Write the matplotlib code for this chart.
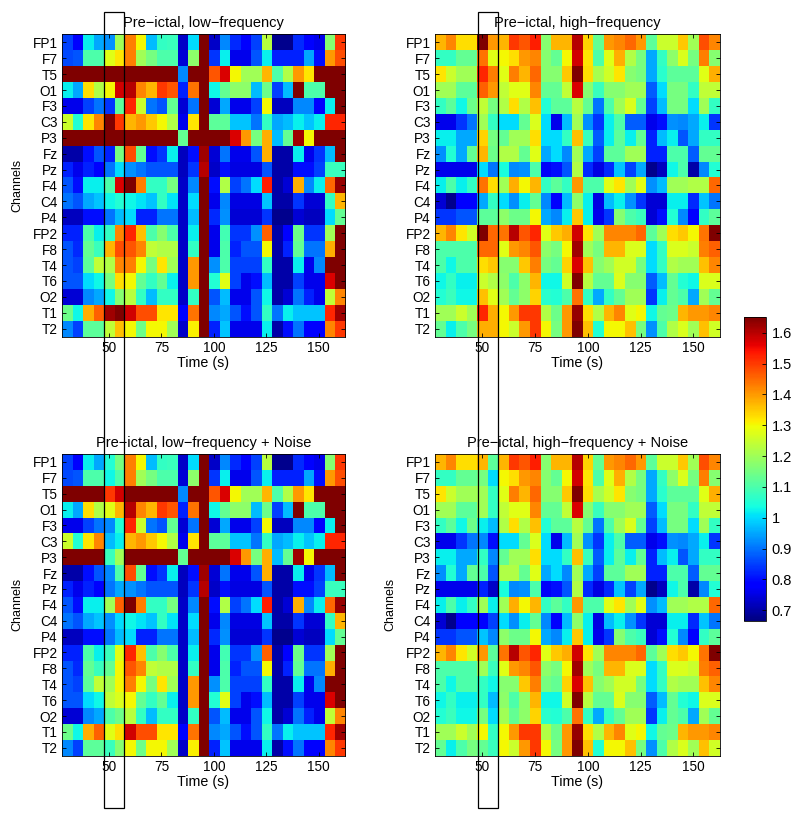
import matplotlib
matplotlib.use("Agg")
import matplotlib.pyplot as plt
import numpy as np
from matplotlib.patches import Rectangle

plt.rcParams["font.family"] = ["Liberation Sans", "DejaVu Sans"]

channels = ["FP1", "F7", "T5", "O1", "F3", "C3", "P3", "Fz", "Pz", "F4", "C4", "P4",
            "FP2", "F8", "T4", "T6", "O2", "T1", "T2"]
time_ticks = [50, 75, 100, 125, 150]
cbar_ticks = [0.7, 0.8, 0.9, 1, 1.1, 1.2, 1.3, 1.4, 1.5, 1.6]

low_freq = [
    [.85, .78, 1.02, .95, .93, 1.2, 1.43, 1.3, .97, 1.07, 1.08, .73, 1.0, 1.65, .73, .92, .83, .78, .85, 1.23, .68, .68, .83, .78, .76, 1.17, 1.5],
    [.86, .87, 1.1, 1.1, 1.28, 1.32, 1.43, 1.2, 1.15, 1.1, 1.1, .74, 1.18, 1.65, .84, 1.02, .76, .76, .87, 1.02, .82, .82, .82, .95, .8, 1.4, 1.48],
    [1.65, 1.65, 1.65, 1.65, 1.65, 1.65, 1.65, 1.65, 1.65, 1.65, 1.65, .92, 1.65, 1.65, 1.47, 1.57, 1.3, 1.2, 1.2, 1.37, 1.1, 1.22, 1.4, 1.32, 1.65, 1.65, 1.65],
    [1.02, .95, 1.33, 1.22, 1.3, 1.58, 1.6, 1.42, 1.37, 1.5, 1.47, .82, 1.44, 1.65, 1.03, 1.13, 1.18, 1.18, .97, 1.14, .85, .97, 1.65, 1.1, 1.1, 1.65, 1.65],
    [.76, .76, .85, .9, .84, 1.12, 1.52, 1.25, .9, .87, 1.13, .74, .9, 1.65, .74, .95, .76, .76, .85, 1.3, .72, .72, .92, .92, .78, 1.02, 1.65],
    [1.25, 1.05, 1.32, 1.42, 1.65, 1.5, 1.37, 1.4, 1.35, 1.3, 1.22, .76, 1.32, 1.65, 1.12, 1.12, .98, .98, .9, 1.07, .95, .97, 1.02, .98, 1.02, 1.52, 1.52],
    [1.65, 1.65, 1.65, 1.65, 1.65, 1.65, 1.65, 1.65, 1.65, 1.65, 1.65, 1.13, 1.65, 1.65, 1.65, 1.65, 1.57, 1.4, 1.15, 1.38, .97, 1.13, 1.62, 1.3, 1.65, 1.65, 1.65],
    [.7, .7, .8, .87, .82, 1.15, 1.48, 1.13, .8, .84, 1.02, .72, .8, 1.62, .74, .9, .76, .76, .87, 1.38, .7, .7, 1.02, .76, .84, .97, 1.65],
    [.82, .76, .82, .78, .9, 1.0, .93, .9, .87, .87, .87, .72, .84, 1.6, .73, .8, .75, .75, .75, .87, .7, .7, .8, .8, .85, 1.08, 1.08],
    [.87, .8, 1.02, 1.02, 1.1, 1.57, 1.65, 1.43, 1.07, 1.07, 1.15, .73, .92, 1.65, .8, 1.22, .85, .9, 1.0, 1.53, .7, .74, 1.38, .92, 1.02, 1.45, 1.63],
    [.9, .87, .95, .98, 1.03, 1.05, 1.03, 1.01, .98, 1.07, 1.01, .73, 1.0, 1.65, .76, .92, .75, .75, .75, .98, .7, .7, .84, .74, .74, 1.07, 1.37],
    [.72, .72, .8, .8, .9, .97, 1.0, .82, .82, .9, .9, .73, .97, 1.65, .83, .93, .74, .74, .74, .84, .68, .68, .74, .72, .72, 1.0, 1.13],
    [.82, .82, 1.1, 1.02, 1.07, 1.42, 1.52, 1.36, 1.1, 1.17, 1.1, .73, 1.02, 1.65, .76, 1.09, .84, .84, .93, 1.46, .7, .78, 1.14, .84, .84, 1.2, 1.65],
    [.87, .83, 1.13, 1.08, 1.37, 1.48, 1.47, 1.42, 1.24, 1.22, 1.22, .73, 1.07, 1.65, .76, 1.1, .82, .87, .87, 1.3, .7, .82, 1.13, .9, .9, 1.38, 1.65],
    [.87, .85, 1.12, 1.24, 1.22, 1.42, 1.43, 1.3, 1.15, 1.32, 1.2, .73, 1.4, 1.65, .93, 1.1, .85, .85, .85, 1.07, .7, .7, 1.02, .76, .92, 1.65, 1.65],
    [.87, .87, 1.0, 1.03, 1.15, 1.33, 1.3, 1.13, 1.07, 1.13, 1.02, .73, 1.4, 1.65, 1.05, 1.28, .85, .76, .8, .97, .7, .7, .85, .76, .76, 1.57, 1.65],
    [.74, .74, .92, .95, 1.03, 1.17, 1.23, 1.07, .97, 1.07, 1.07, .73, 1.07, 1.65, .87, .97, .76, .76, .87, 1.03, .7, .74, .9, .82, .76, 1.24, 1.42],
    [1.14, 1.03, 1.38, 1.46, 1.62, 1.65, 1.58, 1.48, 1.48, 1.32, 1.32, .78, 1.44, 1.65, .92, .95, .87, .8, .87, 1.07, .9, 1.02, .98, .98, .98, 1.52, 1.62],
    [.92, .85, 1.12, 1.12, 1.24, 1.36, 1.3, 1.14, 1.3, 1.3, 1.2, .73, 1.31, 1.65, .82, .98, .76, .76, .76, 1.02, .7, .8, .9, .78, .78, 1.42, 1.5],
]

high_freq = [
    [1.37, 1.42, 1.33, 1.33, 1.65, 1.4, 1.37, 1.5, 1.47, 1.53, 1.17, 1.37, 1.37, 1.6, 1.34, 1.13, 1.4, 1.42, 1.45, 1.4, 1.12, 1.25, 1.25, 1.35, 1.2, 1.48, 1.42],
    [1.07, 1.07, 1.13, 1.13, 1.44, 1.28, 1.3, 1.33, 1.4, 1.42, 1.17, 1.13, 1.3, 1.58, 1.32, 1.1, 1.28, 1.38, 1.22, 1.15, .95, 1.07, 1.18, 1.27, 1.15, 1.43, 1.17],
    [1.32, 1.25, 1.2, 1.2, 1.52, 1.43, 1.28, 1.43, 1.37, 1.45, 1.17, 1.17, 1.35, 1.65, 1.33, 1.21, 1.26, 1.32, 1.17, 1.15, .95, 1.06, 1.12, 1.12, 1.12, 1.28, 1.38],
    [1.2, 1.2, 1.12, 1.12, 1.46, 1.4, 1.24, 1.28, 1.28, 1.42, 1.13, 1.13, 1.24, 1.57, 1.17, 1.08, 1.17, 1.17, 1.2, 1.2, .88, 1.0, 1.15, 1.15, 1.07, 1.24, 1.24],
    [1.07, 1.12, 1.03, 1.14, 1.24, 1.15, 1.22, 1.33, 1.22, 1.36, 1.05, 1.12, 1.12, 1.23, 1.13, .9, 1.1, 1.2, 1.27, 1.13, .85, .97, 1.15, 1.15, 1.0, 1.2, 1.07],
    [.76, .76, .84, .9, 1.2, 1.07, 1.0, 1.0, 1.13, 1.27, 1.0, .76, .97, 1.2, .93, .84, 1.02, 1.1, .88, .88, .76, .8, .93, .92, .95, 1.02, .84],
    [1.02, 1.02, .95, .95, 1.34, 1.15, 1.13, 1.2, 1.2, 1.33, 1.0, 1.0, 1.07, 1.36, 1.08, .88, 1.02, 1.12, 1.02, 1.13, .82, .97, 1.02, .87, .95, 1.07, 1.07],
    [.93, 1.05, .95, 1.13, 1.37, 1.14, 1.22, 1.22, 1.13, 1.28, .95, 1.0, .92, 1.2, .95, .85, 1.12, 1.12, 1.2, 1.2, .82, .82, 1.1, 1.1, .88, 1.13, 1.13],
    [.76, .76, .76, .76, 1.0, .9, 1.04, .92, .93, 1.1, .77, .8, .87, 1.22, .83, .75, .83, .98, .85, .95, .68, .72, 1.03, 1.1, .7, .92, 1.05],
    [1.02, 1.1, 1.02, 1.07, 1.44, 1.33, 1.2, 1.38, 1.3, 1.37, 1.07, 1.12, 1.07, 1.4, 1.1, 1.1, 1.28, 1.32, 1.2, 1.28, .93, .97, 1.2, 1.2, 1.22, 1.22, 1.45],
    [.74, .68, .78, .78, .95, 1.07, 1.0, .93, 1.02, 1.13, .92, .78, .97, 1.18, 1.02, .75, .97, 1.02, .93, .84, .74, .74, 1.02, 1.02, .83, .98, .9],
    [.84, .84, .87, .87, 1.12, 1.12, 1.18, 1.14, 1.14, 1.3, .95, .92, 1.02, 1.35, 1.02, .76, .84, 1.17, 1.1, 1.08, .74, .8, 1.05, .92, .78, 1.07, 1.12],
    [1.37, 1.42, 1.32, 1.26, 1.65, 1.45, 1.44, 1.6, 1.47, 1.52, 1.28, 1.35, 1.38, 1.58, 1.32, 1.2, 1.42, 1.42, 1.42, 1.45, 1.12, 1.2, 1.33, 1.35, 1.3, 1.44, 1.65],
    [1.1, 1.1, 1.1, 1.1, 1.45, 1.45, 1.28, 1.4, 1.42, 1.47, 1.18, 1.15, 1.3, 1.62, 1.2, 1.15, 1.37, 1.37, 1.27, 1.27, 1.0, 1.07, 1.27, 1.27, 1.25, 1.43, 1.46],
    [1.1, 1.03, 1.1, 1.1, 1.33, 1.35, 1.17, 1.17, 1.35, 1.43, 1.15, 1.13, 1.34, 1.57, 1.36, 1.17, 1.2, 1.26, 1.26, 1.15, 1.0, 1.07, 1.22, 1.2, 1.2, 1.36, 1.42],
    [1.03, 1.07, 1.02, 1.02, 1.25, 1.22, 1.18, 1.1, 1.18, 1.37, 1.03, 1.03, 1.26, 1.65, 1.23, 1.13, 1.13, 1.27, 1.17, 1.17, .88, .97, 1.13, 1.05, 1.03, 1.27, 1.27],
    [1.05, 1.08, 1.03, 1.03, 1.36, 1.28, 1.2, 1.13, 1.18, 1.34, 1.06, 1.05, 1.1, 1.44, 1.07, .95, 1.07, 1.13, 1.2, 1.2, .84, 1.02, 1.13, 1.1, .95, 1.2, 1.13],
    [1.2, 1.2, 1.25, 1.2, 1.52, 1.38, 1.3, 1.4, 1.5, 1.5, 1.22, 1.14, 1.4, 1.63, 1.33, 1.22, 1.37, 1.42, 1.28, 1.3, 1.03, 1.13, 1.14, 1.37, 1.4, 1.4, 1.42],
    [1.13, 1.02, 1.1, 1.15, 1.38, 1.38, 1.3, 1.25, 1.4, 1.5, 1.3, 1.15, 1.4, 1.65, 1.36, 1.05, 1.3, 1.3, 1.36, 1.15, .93, 1.1, 1.22, 1.27, 1.2, 1.36, 1.26],
]

# noise only touches the two time bins inside the black box
low_noise_col4 = [1.05, 1.03, 1.5, 1.28, .92, .97, 1.08, .92, .9, 1.2, .93, .9, 1.08, 1.13, 1.2, 1.24, 1.1, 1.28, 1.08]
low_noise_col5 = [1.15, 1.1, 1.58, 1.37, 1.05, 1.02, 1.2, 1.1, .95, 1.46, 1.0, .97, 1.28, 1.3, 1.3, 1.27, 1.14, 1.33, 1.17]
high_noise_col4 = [1.37, 1.15, 1.2, 1.2, 1.02, .92, 1.07, 1.1, .82, 1.2, .78, .98, 1.4, 1.2, 1.07, 1.07, 1.15, 1.3, 1.13]
high_noise_col5 = [1.12, 1.0, 1.07, 1.07, .97, .8, .92, .87, .73, 1.02, .85, .92, 1.12, 1.08, 1.03, .97, 1.0, 1.07, 1.08]

W, H = 800, 818
VMIN, VMAX = 0.665, 1.65
T0, T1 = 27.5, 162.5


def with_noise(base, col4, col5):
    m = np.array(base, dtype=float)
    m[:, 4] = col4
    m[:, 5] = col5
    return m


def px_axes(fig, left, top, right, bottom):
    return fig.add_axes([left / W, 1 - bottom / H, (right - left) / W, (bottom - top) / H])


def draw_panel(ax, data, title, ylabel=False):
    im = ax.imshow(data, cmap="jet", vmin=VMIN, vmax=VMAX, aspect="auto",
                   interpolation="nearest", extent=[T0, T1, len(channels) - 0.5, -0.5])
    ax.set_xticks(time_ticks)
    ax.set_yticks(range(len(channels)))
    ax.set_yticklabels(channels)
    ax.tick_params(direction="in", top=True, right=True, length=3, width=0.6, labelsize=9.8, pad=3)
    ax.set_xlabel("Time (s)", fontsize=10.3, labelpad=0.5)
    if ylabel:
        ax.set_ylabel("Channels", fontsize=9, labelpad=6.5)
    ax.set_title(title, fontsize=10.5, pad=5)
    for s in ax.spines.values():
        s.set_linewidth(0.6)
    return im


fig = plt.figure(figsize=(W / 100, H / 100), dpi=100)

ax1 = px_axes(fig, 61.7, 34.3, 345, 336.7)
ax2 = px_axes(fig, 435, 34.3, 719.7, 336.7)
ax3 = px_axes(fig, 61.7, 454, 345, 755.7)
ax4 = px_axes(fig, 435, 454, 719.7, 755.7)

im = draw_panel(ax1, low_freq, "Pre\u2212ictal, low\u2212frequency", ylabel=True)
draw_panel(ax2, high_freq, "Pre\u2212ictal, high\u2212frequency")
draw_panel(ax3, with_noise(low_freq, low_noise_col4, low_noise_col5),
           "Pre\u2212ictal, low\u2212frequency + Noise", ylabel=True)
draw_panel(ax4, with_noise(high_freq, high_noise_col4, high_noise_col5),
           "Pre\u2212ictal, high\u2212frequency + Noise", ylabel=True)

# colorbar
cax = px_axes(fig, 744, 317.3, 766, 621)
cb = fig.colorbar(im, cax=cax, ticks=cbar_ticks)
cb.ax.set_yticklabels(["0.7", "0.8", "0.9", "1", "1.1", "1.2", "1.3", "1.4", "1.5", "1.6"])
cb.ax.tick_params(direction="in", length=3, width=0.6, labelsize=10.5, pad=4)
cb.outline.set_linewidth(0.6)

# box around the perturbed time window, spans both rows
for left in (104.3, 478.3):
    fig.add_artist(Rectangle((left / W, 1 - 807.5 / H), 20 / W, (807.5 - 11.5) / H, transform=fig.transFigure,
                             fill=False, edgecolor="black", linewidth=0.9))

fig.savefig("out.png", dpi=100)
